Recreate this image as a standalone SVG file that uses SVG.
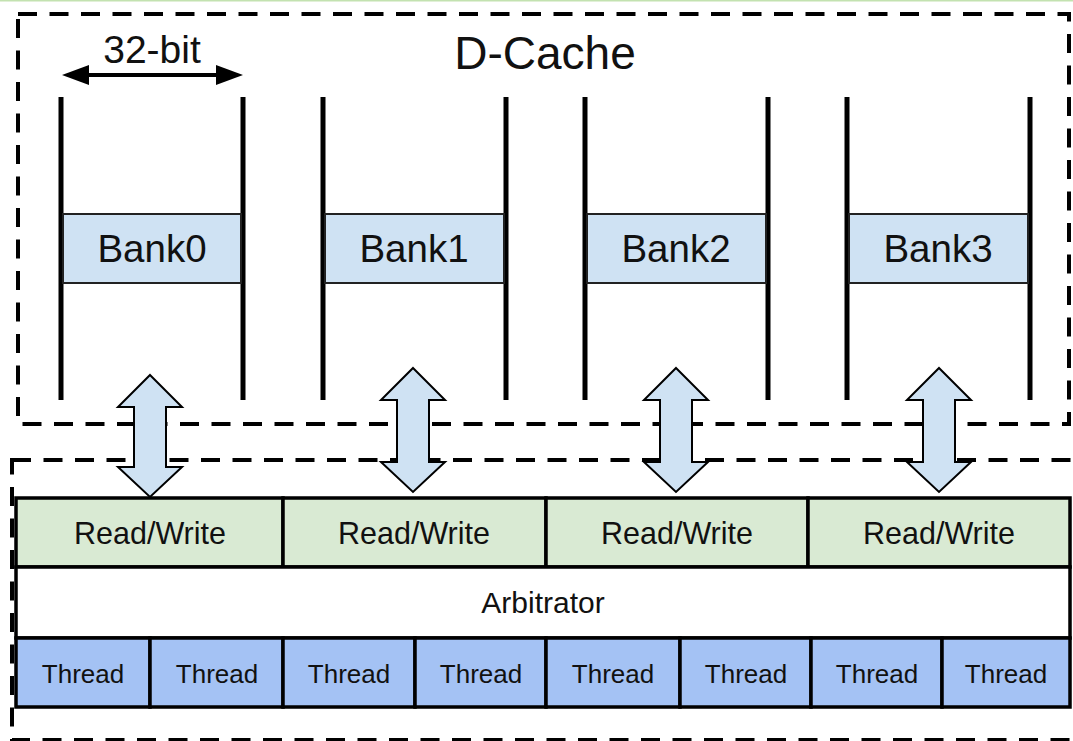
<svg xmlns="http://www.w3.org/2000/svg" width="1073" height="741" viewBox="0 0 1073 741">
  <style>
    text { font-family: "Liberation Sans", Arial, sans-serif; fill: #111; text-anchor: middle; }
    .frame { fill: none; stroke: #000; stroke-width: 4; stroke-dasharray: 19 12.5; }
    .rail { stroke: #000; stroke-width: 5; }
    .bank { fill: #cfe2f3; stroke: #222; stroke-width: 2; }
    .bank-label { font-size: 38.5px; }
    .rw { fill: #d9ead3; stroke: #000; stroke-width: 3.5; }
    .arb { fill: #fff; stroke: #000; stroke-width: 3.5; }
    .thread { fill: #a4c2f4; stroke: #000; stroke-width: 3.5; }
    .rw-label { font-size: 30.5px; }
    .thread-label { font-size: 26px; }
    .dbl { fill: #cfe2f3; stroke: #000; stroke-width: 2; stroke-linejoin: miter; }
  </style>

  <rect width="1073" height="741" fill="#fff"/>
  <line x1="0" y1="0.5" x2="1073" y2="0.5" stroke="#c3e2b0" stroke-width="2"/>

  <!-- cache region -->
  <g id="dcache">
    <rect class="frame" x="18" y="14" width="1051" height="410"/>
    <text x="545" y="69" style="font-size:46px">D-Cache</text>
  </g>

  <!-- word width marker -->
  <g id="width-marker">
    <line x1="80" y1="75" x2="225" y2="75" stroke="#000" stroke-width="4"/>
    <polygon points="62,75 89,65 89,85" fill="#000"/>
    <polygon points="243,75 216,65 216,85" fill="#000"/>
    <text x="152" y="63" style="font-size:39px">32-bit</text>
  </g>

  <g id="bank0">
    <line class="rail" x1="61" y1="97" x2="61" y2="400"/>
    <line class="rail" x1="243" y1="97" x2="243" y2="400"/>
    <rect class="bank" x="63" y="214" width="178" height="69"/>
    <text class="bank-label" x="152" y="262">Bank0</text>
  </g>
  <g id="bank1">
    <line class="rail" x1="323" y1="97" x2="323" y2="400"/>
    <line class="rail" x1="506" y1="97" x2="506" y2="400"/>
    <rect class="bank" x="325" y="214" width="179" height="69"/>
    <text class="bank-label" x="414" y="262">Bank1</text>
  </g>
  <g id="bank2">
    <line class="rail" x1="585" y1="97" x2="585" y2="400"/>
    <line class="rail" x1="768" y1="97" x2="768" y2="400"/>
    <rect class="bank" x="587" y="214" width="179" height="69"/>
    <text class="bank-label" x="676" y="262">Bank2</text>
  </g>
  <g id="bank3">
    <line class="rail" x1="847" y1="97" x2="847" y2="400"/>
    <line class="rail" x1="1030" y1="97" x2="1030" y2="400"/>
    <rect class="bank" x="849" y="214" width="179" height="69"/>
    <text class="bank-label" x="938" y="262">Bank3</text>
  </g>

  <!-- access unit region -->
  <g id="access-unit">
    <rect class="frame" x="12" y="460" width="1066" height="280"/>
  </g>

  <g id="read-write">
    <rect class="rw" x="16" y="498" width="267" height="69"/>
    <rect class="rw" x="283" y="498" width="263" height="69"/>
    <rect class="rw" x="546" y="498" width="262" height="69"/>
    <rect class="rw" x="808" y="498" width="262" height="69"/>
    <text class="rw-label" x="150" y="544">Read/Write</text>
    <text class="rw-label" x="414" y="544">Read/Write</text>
    <text class="rw-label" x="677" y="544">Read/Write</text>
    <text class="rw-label" x="939" y="544">Read/Write</text>
  </g>

  <g id="arbitrator">
    <rect class="arb" x="16" y="567" width="1054" height="71"/>
    <text x="543" y="613" style="font-size:30px">Arbitrator</text>
  </g>

  <g id="threads">
    <rect class="thread" x="16" y="638" width="134" height="69"/>
    <rect class="thread" x="150" y="638" width="133" height="69"/>
    <rect class="thread" x="283" y="638" width="132" height="69"/>
    <rect class="thread" x="415" y="638" width="131" height="69"/>
    <rect class="thread" x="546" y="638" width="134" height="69"/>
    <rect class="thread" x="680" y="638" width="131" height="69"/>
    <rect class="thread" x="811" y="638" width="131" height="69"/>
    <rect class="thread" x="942" y="638" width="128" height="69"/>
    <text class="thread-label" x="83" y="683">Thread</text>
    <text class="thread-label" x="217" y="683">Thread</text>
    <text class="thread-label" x="349" y="683">Thread</text>
    <text class="thread-label" x="481" y="683">Thread</text>
    <text class="thread-label" x="613" y="683">Thread</text>
    <text class="thread-label" x="746" y="683">Thread</text>
    <text class="thread-label" x="877" y="683">Thread</text>
    <text class="thread-label" x="1006" y="683">Thread</text>
  </g>

  <!-- bank to read/write connections -->
  <g id="connectors">
    <path class="dbl" d="M150,375 L182,407 L166,407 L166,467 L182,467 L150,497 L118,467 L134,467 L134,407 L118,407 Z"/>
    <path class="dbl" d="M413,368 L445,400 L429,400 L429,462 L445,462 L413,492 L381,462 L397,462 L397,400 L381,400 Z"/>
    <path class="dbl" d="M676,368 L708,400 L692,400 L692,462 L708,462 L676,492 L644,462 L660,462 L660,400 L644,400 Z"/>
    <path class="dbl" d="M939,368 L971,400 L955,400 L955,462 L971,462 L939,492 L907,462 L923,462 L923,400 L907,400 Z"/>
  </g>
</svg>
